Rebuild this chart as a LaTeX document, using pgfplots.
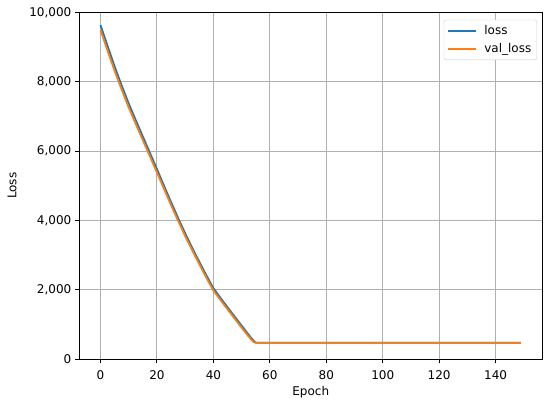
\documentclass[border=0pt]{standalone}
\usepackage{fontspec}
\setmainfont{DejaVu Sans}
\usepackage{pgfplots}
\pgfplotsset{compat=1.18}
\definecolor{mplblue}{HTML}{1F77B4}
\definecolor{mplorange}{HTML}{FF7F0E}
\definecolor{mplgrid}{HTML}{B0B0B0}
\begin{document}
\fontsize{12}{14}\selectfont
\begin{tikzpicture}
\useasboundingbox (-79.5pt,-44.7pt) rectangle (470.5pt,359.3pt);
\begin{axis}[
  scale only axis,
  width=462.5pt, height=347pt,
  xmin=-7.45, xmax=156.45,
  ymin=0, ymax=10000,
  xtick={0,20,40,60,80,100,120,140},
  ytick={0,2000,4000,6000,8000,10000},
  xtick pos=bottom, ytick pos=left,
  scaled y ticks=false,
  /pgf/number format/assume math mode=true,
  /pgf/number format/1000 sep={,},
  tick align=outside,
  major tick length=4pt,
  tick style={black, line width=0.96pt},
  axis line style={black, line width=0.96pt},
  grid=major,
  major grid style={mplgrid, line width=0.96pt},
  xticklabel style={yshift=-3pt},
  xlabel={Epoch},
  ylabel={Loss},
  xlabel style={at={(axis description cs:0.5,-0.095)}, anchor=center},
  ylabel style={at={(axis description cs:-0.146,0.5)}, anchor=center},
  legend cell align=left,
  legend style={at={(axis description cs:1,1)}, anchor=north east,
    xshift=-5pt, yshift=-7.5pt, draw=black!20, rounded corners=2pt,
    fill=white, row sep=3pt, inner sep=3.5pt},
  legend image code/.code={\draw[#1, line width=1.8pt] (0pt,0pt) -- (28pt,0pt);},
]
\addplot[mplblue, line width=1.8pt] coordinates {
(0,9630) (2.5,9030) (5,8440) (7.5,7890) (10,7370) (12.5,6890) (15,6420)
(17.5,5950) (20,5480) (22.5,5000) (25,4530) (27.5,4070) (30,3630)
(32.5,3210) (35,2810) (37.5,2420) (40,2050) (42.5,1770) (45,1500)
(47.5,1235) (50,970) (52,760) (53,655) (54,560) (54.6,505) (55,485)
(55.6,475) (60,475) (80,475) (100,475) (120,475) (140,475) (149,475)
};
\addlegendentry{\hspace{5pt}loss}
\addplot[mplorange, line width=1.8pt] coordinates {
(0,9490) (2.5,8890) (5,8310) (7.5,7770) (10,7250) (12.5,6780) (15,6310)
(17.5,5850) (20,5380) (22.5,4910) (25,4440) (27.5,3990) (30,3550)
(32.5,3140) (35,2740) (37.5,2350) (40,1980) (42.5,1710) (45,1440)
(47.5,1175) (50,910) (52,705) (53,605) (54,515) (54.4,490) (54.8,478)
(55.4,475) (60,475) (80,475) (100,475) (120,475) (140,475) (149,475)
};
\addlegendentry{\hspace{5pt}val\_loss}
\end{axis}
\end{tikzpicture}
\end{document}
